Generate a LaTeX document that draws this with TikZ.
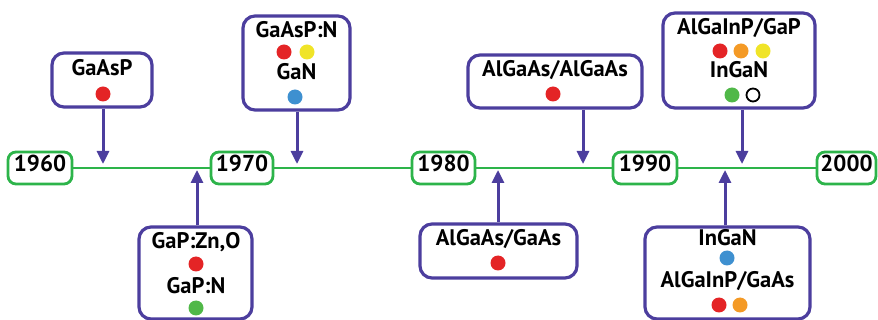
\documentclass[tikz,border=0pt]{standalone}
\usepackage{fontspec}
\setmainfont{PT Sans}
\usetikzlibrary{arrows.meta}
\definecolor{boxc}{RGB}{76,62,158}
\definecolor{tlg}{RGB}{45,180,74}
\definecolor{dred}{RGB}{228,36,38}
\definecolor{dyel}{RGB}{240,228,40}
\definecolor{dblu}{RGB}{62,144,208}
\definecolor{dgrn}{RGB}{80,184,72}
\definecolor{dorg}{RGB}{244,154,38}
\tikzset{
  matbox/.style={draw=boxc, line width=3.2pt, rounded corners=12pt, inner sep=0pt},
  yearbox/.style={draw=tlg, line width=2.8pt, rounded corners=8pt, fill=white, inner sep=0pt,
     minimum height=32pt, font=\bfseries\fontsize{23}{23}\selectfont, text height=0.7em, text depth=0pt},
  lbl/.style={font=\bfseries\fontsize{22.5}{23}\selectfont, inner sep=0pt, text height=0.7em, text depth=0pt},
  dot/.style={circle, inner sep=0pt, minimum size=15pt, fill=#1},
  odot/.style={circle, inner sep=0pt, minimum size=13pt, draw=black, line width=1.8pt, fill=white},
  tline/.style={draw=tlg, line width=2.8pt},
  arr/.style={draw=boxc, line width=3pt, -{Triangle[length=13pt,width=12pt]}},
}
\begin{document}
\begin{tikzpicture}[x=1pt,y=-1pt]
\useasboundingbox (0,0) rectangle (878,320);
% year boxes
\node[yearbox, minimum width=64pt] (y60) at (40,168) {1960};
\node[yearbox, minimum width=62pt] (y70) at (242,168) {1970};
\node[yearbox, minimum width=63pt] (y80) at (443.5,168) {1980};
\node[yearbox, minimum width=64pt] (y90) at (645,168) {1990};
\node[yearbox, minimum width=59pt] (y00) at (846.5,168) {2000};
\draw[tline] (y60.east) -- (y70.west);
\draw[tline] (y70.east) -- (y80.west);
\draw[tline] (y80.east) -- (y90.west);
\draw[tline] (y90.east) -- (y00.west);
% arrow tips on the timeline
\coordinate (t1) at (103,164);
\coordinate (t2) at (197,170);
\coordinate (t3) at (297,164);
\coordinate (t4) at (498,170);
\coordinate (t5) at (583,164);
\coordinate (t6) at (725,170);
\coordinate (t7) at (742,164);
% box 1: GaAsP
\node[matbox, minimum width=100pt, minimum height=54pt] (b1) at (102,80) {};
\node[lbl] (b1a) at (102,72.5) {GaAsP};
\node[dot=dred] (b1d) at (103,94) {};
\draw[arr] (b1.south -| t1) -- (t1);
% box 2: GaP:Zn,O / GaP:N
\node[matbox, minimum width=113pt, minimum height=92pt] (b2) at (195.5,273) {};
\node[lbl] (b2a) at (196,245) {GaP:Zn,O};
\node[dot=dred] (b2d) at (196,264) {};
\node[lbl] (b2b) at (196,290) {GaP:N};
\node[dot=dgrn] (b2e) at (196,308) {};
\draw[arr] (b2.north -| t2) -- (t2);
% box 3: GaAsP:N / GaN
\node[matbox, minimum width=107pt, minimum height=94pt] (b3) at (296.5,63) {};
\node[lbl] (b3a) at (296.5,34.5) {GaAsP:N};
\node[dot=dred] (b3d) at (284,52) {};
\node[dot=dyel] (b3e) at (307,52) {};
\node[lbl] (b3b) at (296.5,76) {GaN};
\node[dot=dblu] (b3f) at (295,97) {};
\draw[arr] (b3.south -| t3) -- (t3);
% box 4: AlGaAs/GaAs
\node[matbox, minimum width=157pt, minimum height=54pt] (b4) at (498.5,251) {};
\node[lbl] (b4a) at (498.5,242) {AlGaAs/GaAs};
\node[dot=dred] (b4d) at (498,263) {};
\draw[arr] (b4.north -| t4) -- (t4);
% box 5: AlGaAs/AlGaAs
\node[matbox, minimum width=174pt, minimum height=53pt] (b5) at (555,81.5) {};
\node[lbl] (b5a) at (555,73) {AlGaAs/AlGaAs};
\node[dot=dred] (b5d) at (553,94) {};
\draw[arr] (b5.south -| t5) -- (t5);
% box 6: InGaN / AlGaInP/GaAs
\node[matbox, minimum width=165pt, minimum height=92pt] (b6) at (727.5,273) {};
\node[lbl] (b6a) at (727.5,242) {InGaN};
\node[dot=dblu] (b6d) at (727,258) {};
\node[lbl] (b6b) at (727.5,284) {AlGaInP/GaAs};
\node[dot=dred] (b6e) at (719,305) {};
\node[dot=dorg] (b6f) at (740,305) {};
\draw[arr] (b6.north -| t6) -- (t6);
% box 7: AlGaInP/GaP / InGaN
\node[matbox, minimum width=152pt, minimum height=95pt] (b7) at (739,60.5) {};
\node[lbl] (b7a) at (739,31) {AlGaInP/GaP};
\node[dot=dred] (b7d) at (720,51) {};
\node[dot=dorg] (b7e) at (741,51) {};
\node[dot=dyel] (b7f) at (763,51) {};
\node[lbl] (b7b) at (739,74) {InGaN};
\node[dot=dgrn] (b7g) at (732,95) {};
\node[odot] (b7h) at (753,95) {};
\draw[arr] (b7.south -| t7) -- (t7);
\end{tikzpicture}
\end{document}
